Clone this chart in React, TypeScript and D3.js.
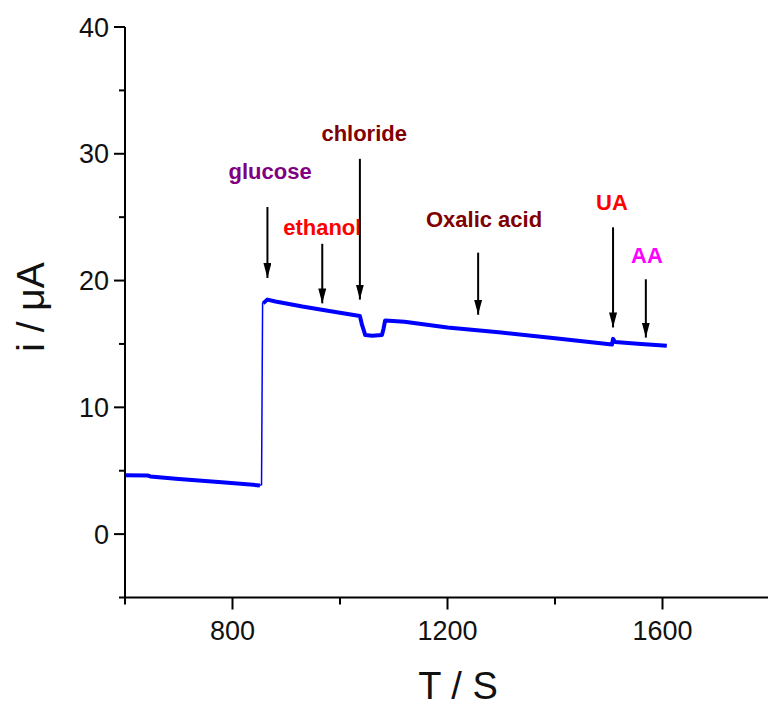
import React, { useEffect } from "react";
import * as d3 from "d3";

// Amperometric response (time in s, current in µA), before the glucose step
const baseTime = [600, 643, 647, 700, 780, 851];
const baseCurrent = [4.65, 4.62, 4.55, 4.35, 4.1, 3.84];
// after the glucose step
const stepTime = [857, 865, 880, 930, 980, 1037, 1041, 1047, 1060, 1078, 1081, 1084, 1120, 1200, 1300, 1400, 1506, 1508, 1512, 1560, 1608];
const stepCurrent = [18.2, 18.5, 18.35, 17.95, 17.6, 17.2, 16.5, 15.7, 15.65, 15.7, 16.2, 16.85, 16.75, 16.3, 15.9, 15.45, 14.95, 15.4, 15.15, 15.0, 14.85];

// Injection annotations
const analytes = ["glucose", "ethanol", "chloride", "Oxalic acid", "UA", "AA"];
const analyteColors = ["#800080", "#ff0000", "#800000", "#800000", "#ff0000", "#ff00ff"];
const arrowTime = [865, 967, 1037, 1257, 1508, 1569];
const arrowTop = [25.8, 22.9, 29.6, 22.2, 24.2, 20.1];
const arrowTip = [20.2, 18.2, 18.5, 17.3, 16.3, 15.5];
const labelTime = [870, 967, 1045, 1268, 1506, 1571];
const labelValue = [28.0, 23.6, 31.0, 24.2, 25.6, 21.4];

const xMajor = [800, 1200, 1600];
const xMinor = [600, 1000, 1400, 1800];
const yMajor = [0, 10, 20, 30, 40];
const yMinor = [-5, 5, 15, 25, 35];

const W = 768;
const H = 706;

export default function App() {
  useEffect(() => {
    document.body.style.margin = "0";
  }, []);

  const x = d3.scaleLinear().domain([600, 1800]).range([125, 770]);
  const y = d3.scaleLinear().domain([-5, 40]).range([597.5, 27]);

  const line = d3
    .line<[number, number]>()
    .x((d) => x(d[0]))
    .y((d) => y(d[1]));
  const basePts: [number, number][] = baseTime.map((t, i) => [t, baseCurrent[i]]);
  const stepPts: [number, number][] = stepTime.map((t, i) => [t, stepCurrent[i]]);
  const risePts: [number, number][] = [basePts[basePts.length - 1], [854, 3.9], [856, 18.2], stepPts[0]];

  const font = "'Liberation Sans', Arial, sans-serif";

  return (
    <svg width={W} height={H} style={{ display: "block", background: "#fff" }}>
      <defs>
        <marker id="head" viewBox="0 0 15 8" refX="15" refY="4" markerWidth="15" markerHeight="8" markerUnits="userSpaceOnUse" orient="auto">
          <path d="M0,0 L15,4 L0,8 Z" fill="#000" />
        </marker>
      </defs>

      {/* current trace */}
      <path d={line(risePts) ?? ""} fill="none" stroke="#0000ff" strokeWidth={1.5} />
      <path d={line(basePts) ?? ""} fill="none" stroke="#0000ff" strokeWidth={4} strokeLinejoin="round" />
      <path d={line(stepPts) ?? ""} fill="none" stroke="#0000ff" strokeWidth={4} strokeLinejoin="round" />

      {/* axes */}
      <g stroke="#000" strokeWidth={2} fill="none">
        <line x1={x(600)} x2={x(600)} y1={y(40)} y2={y(-5)} />
        <line x1={x(600) - 1} x2={W} y1={y(-5)} y2={y(-5)} />
        {yMajor.map((v) => (
          <line key={"ym" + v} x1={x(600) - 11} x2={x(600)} y1={y(v)} y2={y(v)} />
        ))}
        {yMinor.map((v) => (
          <line key={"yn" + v} x1={x(600) - 6} x2={x(600)} y1={y(v)} y2={y(v)} />
        ))}
        {xMajor.map((v) => (
          <line key={"xm" + v} x1={x(v)} x2={x(v)} y1={y(-5)} y2={y(-5) + 12} />
        ))}
        {xMinor.map((v) => (
          <line key={"xn" + v} x1={x(v)} x2={x(v)} y1={y(-5)} y2={y(-5) + 7} />
        ))}
      </g>

      <g fontFamily={font} fontSize={27} fill="#111">
        {yMajor.map((v) => (
          <text key={"yl" + v} x={x(600) - 16} y={y(v) + 9.5} textAnchor="end">
            {v}
          </text>
        ))}
        {xMajor.map((v) => (
          <text key={"xl" + v} x={x(v)} y={y(-5) + 42} textAnchor="middle">
            {v}
          </text>
        ))}
      </g>

      <text x={458} y={699} textAnchor="middle" fontFamily={font} fontSize={38} fill="#111">
        T / S
      </text>
      <text transform="translate(44,307) rotate(-90)" textAnchor="middle" fontFamily={font} fontSize={39} fill="#111">
        i / μA
      </text>

      {/* injection arrows and labels */}
      {analytes.map((name, i) => (
        <g key={name}>
          <line
            x1={x(arrowTime[i])}
            x2={x(arrowTime[i])}
            y1={y(arrowTop[i])}
            y2={y(arrowTip[i])}
            stroke="#000"
            strokeWidth={2}
            markerEnd="url(#head)"
          />
          <text
            x={x(labelTime[i])}
            y={y(labelValue[i])}
            textAnchor="middle"
            fontFamily={font}
            fontWeight="bold"
            fontSize={22}
            fill={analyteColors[i]}
          >
            {name}
          </text>
        </g>
      ))}
    </svg>
  );
}
